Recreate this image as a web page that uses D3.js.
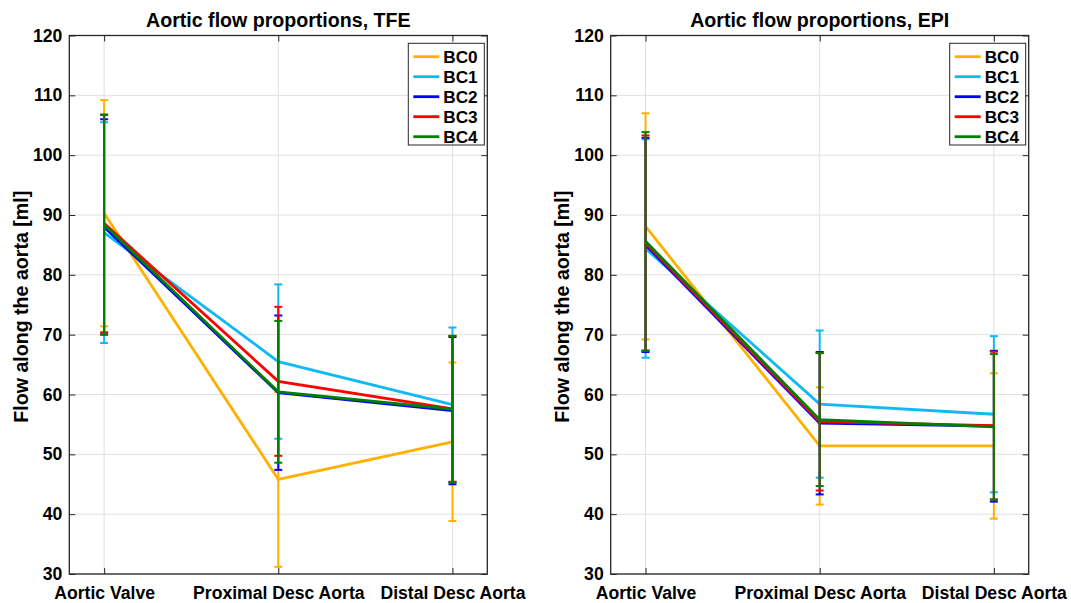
<!DOCTYPE html>
<html>
<head>
<meta charset="utf-8">
<script src="https://cdn.jsdelivr.net/npm/d3@7"></script>
<style>
  html, body { margin: 0; padding: 0; background: #fff; }
  svg { display: block; }
  text { font-family: "Liberation Sans", Arial, Helvetica, sans-serif; font-weight: bold; fill: #000; }
</style>
</head>
<body>
<svg id="chart" width="1071" height="603"></svg>
<script>
// ---- data ----
const categories = ["Aortic Valve", "Proximal Desc Aorta", "Distal Desc Aorta"];
const seriesNames = ["BC0", "BC1", "BC2", "BC3", "BC4"];
const seriesColors = ["#ffb000", "#10b8f5", "#0000ff", "#ff0000", "#008000"];
const yTicks = [30, 40, 50, 60, 70, 80, 90, 100, 110, 120];

// TFE: mean and SD per series (rows = BC0..BC4, cols = categories)
const tfeMeans = [
  [90.3, 45.8, 52.1],
  [87.05, 65.5, 58.3],
  [88.0, 60.3, 57.3],
  [88.6, 62.2, 57.6],
  [88.4, 60.45, 57.55]
];
const tfeSD = [
  [18.9, 14.6, 13.25],
  [18.45, 12.9, 12.9],
  [18.0, 12.9, 12.3],
  [18.2, 12.45, 12.2],
  [18.3, 11.85, 12.25]
];
// EPI
const epiMeans = [
  [88.1, 51.4, 51.4],
  [84.4, 58.4, 56.7],
  [85.0, 55.2, 54.7],
  [85.3, 55.45, 54.8],
  [85.6, 55.8, 54.6]
];
const epiSD = [
  [18.9, 9.8, 12.15],
  [18.25, 12.3, 13.05],
  [17.9, 11.9, 12.6],
  [18.0, 11.5, 12.35],
  [18.25, 11.1, 12.15]
];

const panels = [
  { title: "Aortic flow proportions, TFE", means: tfeMeans, sd: tfeSD, left: 69.3 },
  { title: "Aortic flow proportions, EPI", means: epiMeans, sd: epiSD, left: 610.7 }
];

const svg = d3.select("#chart");
const plotW = 418, topY = 35.5, bottomY = 574;
const axisColor = "#262626";
const tickFont = 17.6, labelFont = 19.6, legendFont = 17.2;

panels.forEach(p => {
  const g = svg.append("g").attr("transform", `translate(${p.left},0)`);
  const x = d3.scaleLinear().domain([0.8, 3.2]).range([0, plotW]);
  const y = d3.scaleLinear().domain([30, 120]).range([bottomY, topY]);

  // grid
  g.append("g").selectAll("line").data(yTicks).join("line")
    .attr("x1", 0).attr("x2", plotW)
    .attr("y1", d => y(d)).attr("y2", d => y(d))
    .attr("stroke", "#e0e0e0").attr("stroke-width", 1);
  g.append("g").selectAll("line").data([1, 2, 3]).join("line")
    .attr("x1", d => x(d)).attr("x2", d => x(d))
    .attr("y1", topY).attr("y2", bottomY)
    .attr("stroke", "#e0e0e0").attr("stroke-width", 1);

  // series
  p.means.forEach((m, i) => {
    const col = seriesColors[i];
    const pts = m.map((v, j) => ({ x: j + 1, v, sd: p.sd[i][j] }));
    const sg = g.append("g");
    sg.append("path")
      .attr("d", d3.line().x(d => x(d.x)).y(d => y(d.v))(pts))
      .attr("fill", "none").attr("stroke", col).attr("stroke-width", 2.8);
    pts.forEach(d => {
      const cx = x(d.x);
      sg.append("line").attr("x1", cx).attr("x2", cx)
        .attr("y1", y(d.v - d.sd)).attr("y2", y(d.v + d.sd))
        .attr("stroke", col).attr("stroke-width", 2);
      [d.v - d.sd, d.v + d.sd].forEach(e => {
        sg.append("line").attr("x1", cx - 4).attr("x2", cx + 4)
          .attr("y1", y(e)).attr("y2", y(e))
          .attr("stroke", col).attr("stroke-width", 2);
      });
    });
  });

  // axes (inward ticks)
  const yl = g.append("g").call(d3.axisLeft(y).tickValues(yTicks).tickSize(-6).tickPadding(7));
  const yr = g.append("g").attr("transform", `translate(${plotW},0)`)
    .call(d3.axisRight(y).tickValues(yTicks).tickSize(-6).tickFormat(""));
  const xb = g.append("g").attr("transform", `translate(0,${bottomY})`)
    .call(d3.axisBottom(x).tickValues([1, 2, 3]).tickSize(-6).tickPadding(12.5)
      .tickFormat(d => categories[d - 1]));
  const xt = g.append("g").attr("transform", `translate(0,${topY})`)
    .call(d3.axisTop(x).tickValues([1, 2, 3]).tickSize(-6).tickFormat(""));
  [yl, yr, xb, xt].forEach(a => {
    a.select(".domain").remove();
    a.selectAll(".tick line").attr("stroke", axisColor).attr("stroke-width", 1);
    a.selectAll("text").attr("font-size", tickFont).attr("fill", "#000")
      .attr("font-family", '"Liberation Sans", Arial, sans-serif').attr("font-weight", "bold");
  });
  g.append("rect").attr("x", 0).attr("y", topY).attr("width", plotW).attr("height", bottomY - topY)
    .attr("fill", "none").attr("stroke", axisColor).attr("stroke-width", 1.3);

  // title
  g.append("text").attr("x", x(2)).attr("y", 27).attr("text-anchor", "middle")
    .attr("font-size", labelFont).text(p.title);
  // y label
  g.append("text").attr("transform", `translate(-41.5,${(topY + bottomY) / 2 + 2}) rotate(-90)`)
    .attr("text-anchor", "middle").attr("font-size", labelFont).text("Flow along the aorta [ml]");

  // legend
  const lg = g.append("g").attr("transform", `translate(${plotW - 79},43.3)`);
  lg.append("rect").attr("x", 0).attr("y", 0).attr("width", 76).attr("height", 101.7)
    .attr("fill", "#fff").attr("stroke", axisColor).attr("stroke-width", 1);
  seriesNames.forEach((s, i) => {
    const ly = 13.4 + i * 20;
    lg.append("line").attr("x1", 5).attr("x2", 31).attr("y1", ly).attr("y2", ly)
      .attr("stroke", seriesColors[i]).attr("stroke-width", 2.8);
    lg.append("text").attr("x", 35).attr("y", ly + 6).attr("font-size", legendFont).text(s);
  });
});
</script>
</body>
</html>
